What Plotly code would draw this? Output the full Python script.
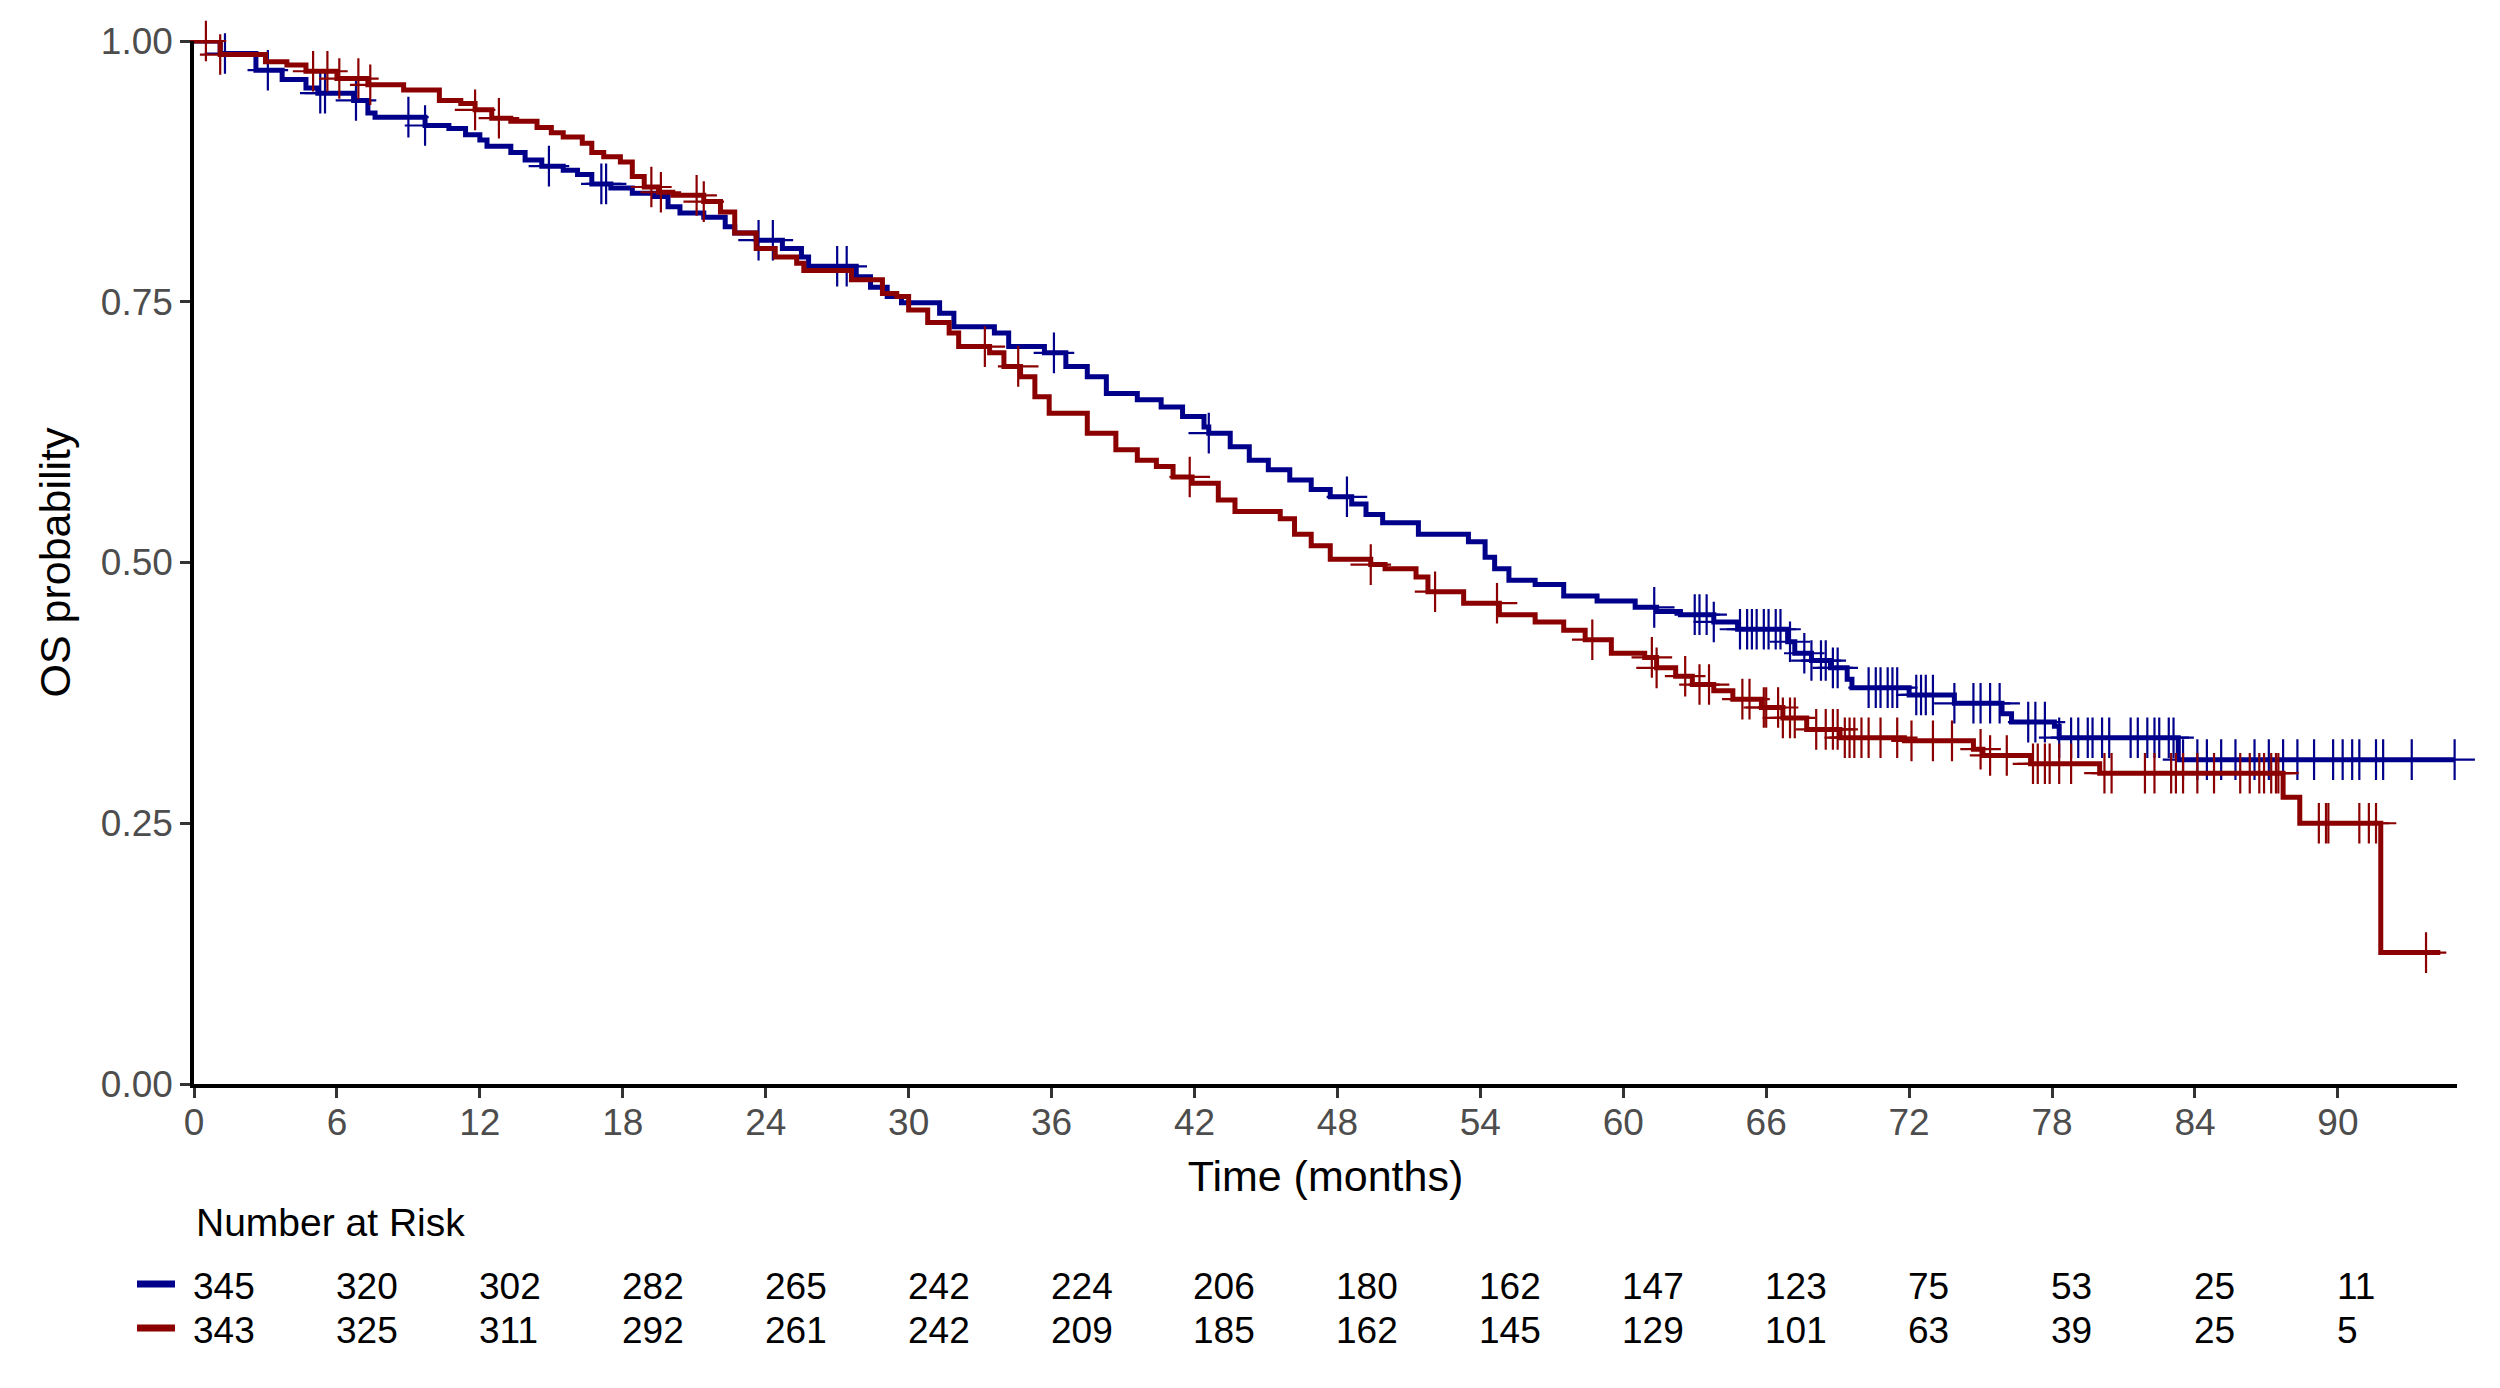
import plotly.graph_objects as go
import numpy as np

# ---- Data ----
blue_t = [0, 1.1, 2.6, 3.7, 4.7, 5.2, 6.7, 7.3, 7.6, 9.7, 10.7, 11.4, 12.0, 12.3, 13.3, 13.9, 14.6, 15.5, 16.1, 16.7,
          17.5, 18.4, 19.3, 19.9, 20.4, 21.4, 22.3, 22.7, 23.6, 24.7, 25.5, 25.8, 27.8, 28.4, 29.1, 29.7, 31.3, 31.9,
          33.6, 34.2, 35.7, 36.6, 37.5, 38.3, 39.6, 40.6, 41.5, 42.4, 42.6, 43.5, 44.3, 45.1, 46.0, 46.9, 47.7, 48.6,
          49.2, 49.9, 51.4, 53.5, 54.2, 54.6, 55.2, 56.3, 57.5, 58.9, 60.5, 61.4, 62.4, 63.8, 64.8, 66.9, 67.2, 67.9,
          68.7, 69.4, 69.6, 72.0, 73.9, 75.9, 76.3, 78.1, 78.3, 83.3, 94.9]
blue_s = [1.0, 0.988, 0.972, 0.963, 0.955, 0.950, 0.943, 0.931, 0.927, 0.919, 0.916, 0.910, 0.905, 0.899, 0.893, 0.886,
          0.880, 0.876, 0.872, 0.863, 0.859, 0.854, 0.851, 0.841, 0.835, 0.831, 0.822, 0.816, 0.809, 0.801, 0.793,
          0.784, 0.774, 0.764, 0.755, 0.749, 0.739, 0.726, 0.720, 0.707, 0.701, 0.688, 0.678, 0.662, 0.656, 0.649,
          0.640, 0.630, 0.624, 0.611, 0.598, 0.589, 0.579, 0.570, 0.563, 0.556, 0.546, 0.538, 0.527, 0.520, 0.505,
          0.494, 0.483, 0.479, 0.468, 0.463, 0.457, 0.453, 0.450, 0.443, 0.436, 0.424, 0.413, 0.406, 0.399, 0.388,
          0.380, 0.373, 0.365, 0.355, 0.347, 0.343, 0.332, 0.311, 0.311]
blue_cens = [1.3, 3.1, 5.3, 5.5, 6.8, 9.0, 9.7, 14.9, 17.1, 17.3, 23.7, 24.3, 27.0, 27.4, 36.1, 42.6, 48.4,
             61.3, 63.0, 63.2, 63.5, 63.8, 64.9, 65.2, 65.4, 65.6, 65.9, 66.1, 66.4, 66.6, 67.0, 67.6, 67.9, 68.3,
             68.5, 68.8, 69.0, 70.3, 70.6, 70.8, 71.1, 71.3, 71.5, 72.3, 72.5, 72.7, 73.0, 73.9, 74.7, 75.0, 75.4,
             75.8, 77.0, 77.3, 77.7, 78.3, 78.8, 79.1, 79.5, 79.7, 80.1, 80.4, 81.3, 81.6, 82.0, 82.3, 82.5, 82.9,
             83.1, 83.5, 84.1, 84.5, 85.1, 85.7, 86.5, 87.1, 87.7, 88.3, 89.0, 89.8, 90.2, 90.6, 90.9, 91.6, 91.9,
             93.1, 94.9]

red_t = [0, 1.1, 3.0, 3.9, 4.7, 6.0, 7.3, 8.8, 10.3, 11.2, 11.8, 12.5, 13.3, 14.4, 15.0, 15.5, 16.3, 16.7, 17.2, 17.9,
         18.4, 18.9, 19.5, 20.1, 21.4, 22.1, 22.7, 23.6, 24.4, 25.3, 25.6, 27.6, 28.9, 29.5, 30.0, 30.8, 31.7, 32.1,
         33.4, 34.0, 34.7, 35.3, 35.9, 37.5, 38.7, 39.6, 40.4, 41.1, 41.9, 43.0, 43.7, 45.6, 46.2, 46.9, 47.7, 49.4,
         50.0, 51.3, 51.8, 53.3, 54.8, 56.3, 57.5, 58.4, 59.5, 60.9, 61.4, 62.2, 62.9, 63.8, 64.6, 65.8, 66.7, 67.7,
         69.1, 71.8, 74.7, 75.1, 77.1, 80.0, 87.7, 88.4, 91.8, 94.3]
red_s = [1.0, 0.987, 0.980, 0.977, 0.971, 0.964, 0.958, 0.953, 0.943, 0.940, 0.934, 0.926, 0.923, 0.917, 0.912, 0.908,
         0.902, 0.893, 0.889, 0.884, 0.870, 0.860, 0.855, 0.852, 0.846, 0.836, 0.816, 0.801, 0.793, 0.787, 0.780,
         0.771, 0.758, 0.755, 0.742, 0.730, 0.720, 0.707, 0.701, 0.688, 0.678, 0.659, 0.643, 0.624, 0.608, 0.598,
         0.592, 0.582, 0.576, 0.560, 0.549, 0.542, 0.527, 0.516, 0.503, 0.498, 0.494, 0.486, 0.472, 0.461, 0.450,
         0.443, 0.435, 0.426, 0.413, 0.409, 0.399, 0.391, 0.383, 0.377, 0.369, 0.361, 0.351, 0.340, 0.332, 0.329,
         0.321, 0.315, 0.307, 0.298, 0.275, 0.250, 0.126, 0.126]
red_cens = [0.5, 1.1, 5.0, 5.6, 6.1, 6.9, 7.4, 11.8, 12.8, 19.2, 19.6, 21.1, 21.4, 33.2, 34.6, 41.8, 49.4, 52.1,
            54.7, 58.7, 61.2, 61.4, 62.6, 63.2, 63.6, 65.0, 65.3, 65.9, 66.0, 66.5, 66.7, 67.0, 67.2, 68.1, 68.5,
            68.8, 69.0, 69.3, 69.5, 69.7, 70.0, 70.3, 70.8, 71.5, 72.1, 73.0, 73.8, 75.0, 75.4, 76.1, 77.2, 77.4,
            77.7, 77.9, 78.3, 78.8, 80.2, 80.5, 81.9, 82.3, 83.0, 83.2, 83.5, 84.1, 84.8, 85.9, 86.3, 86.7, 86.9,
            87.2, 87.4, 87.5, 89.2, 89.5, 89.6, 90.9, 91.3, 91.6, 93.7]

risk_times = [0, 6, 12, 18, 24, 30, 36, 42, 48, 54, 60, 66, 72, 78, 84, 90]
blue_risk = [345, 320, 302, 282, 265, 242, 224, 206, 180, 162, 147, 123, 75, 53, 25, 11]
red_risk = [343, 325, 311, 292, 261, 242, 209, 185, 162, 145, 129, 101, 63, 39, 25, 5]

x_ticks = list(range(0, 91, 6))
y_ticks = [0, 0.25, 0.5, 0.75, 1.0]
y_tick_labels = ["0.00", "0.25", "0.50", "0.75", "1.00"]

BLUE = "#00008B"
RED = "#8B0000"
FONT = "Arial, Liberation Sans, sans-serif"


def step_value(times, surv, t):
    idx = np.searchsorted(np.array(times), t, side="right") - 1
    return surv[max(idx, 0)]


fig = go.Figure()
for t, s, cens, col in [(blue_t, blue_s, blue_cens, BLUE), (red_t, red_s, red_cens, RED)]:
    fig.add_trace(go.Scatter(x=t, y=s, mode="lines", line=dict(color=col, width=5, shape="hv"),
                             showlegend=False, cliponaxis=False))
    fig.add_trace(go.Scatter(x=cens, y=[step_value(t, s, c) for c in cens], mode="markers",
                             marker=dict(symbol="cross-thin", size=29, line=dict(color=col, width=2.2)),
                             showlegend=False, cliponaxis=False))

PLOT_BOTTOM = 1084
plot_h = 1043.0
ann = []
ann.append(dict(x=0, y=-(1222 - PLOT_BOTTOM) / plot_h, xref="x", yref="paper", text="Number at Risk",
                showarrow=False, xanchor="left", yanchor="middle", font=dict(size=39, color="black", family=FONT)))
for row_y, vals in [(1286, blue_risk), (1330, red_risk)]:
    for xt, v in zip(risk_times, vals):
        ann.append(dict(x=xt, y=-(row_y - PLOT_BOTTOM) / plot_h, xref="x", yref="paper", text=str(v),
                        showarrow=False, xanchor="left", yanchor="middle", xshift=-3,
                        font=dict(size=37, color="black", family=FONT)))

shapes = []
for row_y, col in [(1284, BLUE), (1328, RED)]:
    yp = -(row_y - PLOT_BOTTOM) / plot_h
    shapes.append(dict(type="line", xref="paper", yref="paper", x0=(137 - 194) / 2263, x1=(175 - 194) / 2263,
                       y0=yp, y1=yp, line=dict(color=col, width=7)))

fig.update_layout(
    width=2500, height=1388,
    margin=dict(l=194, r=43, t=41, b=304),
    paper_bgcolor="white", plot_bgcolor="white",
    font=dict(family=FONT),
    annotations=ann, shapes=shapes,
    xaxis=dict(range=[0, 95], tickvals=x_ticks, ticktext=[str(v) for v in x_ticks],
               showline=True, linecolor="black", linewidth=3.5, ticks="outside", ticklen=10, tickwidth=2.5,
               tickcolor="#333333", showgrid=False, zeroline=False, ticklabelstandoff=-7,
               tickfont=dict(size=37, color="#4D4D4D", family=FONT),
               title=dict(text="Time (months)", font=dict(size=43, color="black", family=FONT), standoff=20)),
    yaxis=dict(range=[0, 1], tickvals=y_ticks, ticktext=y_tick_labels,
               showline=True, linecolor="black", linewidth=3.5, ticks="outside", ticklen=10, tickwidth=2.5,
               tickcolor="#333333", showgrid=False, zeroline=False,
               tickfont=dict(size=37, color="#4D4D4D", family=FONT),
               title=dict(text="OS probability", font=dict(size=43, color="black", family=FONT), standoff=18)),
)

fig.write_html("out.html", config={"displayModeBar": False},
               post_script="document.body.style.margin='0';document.body.style.overflow='hidden';")
